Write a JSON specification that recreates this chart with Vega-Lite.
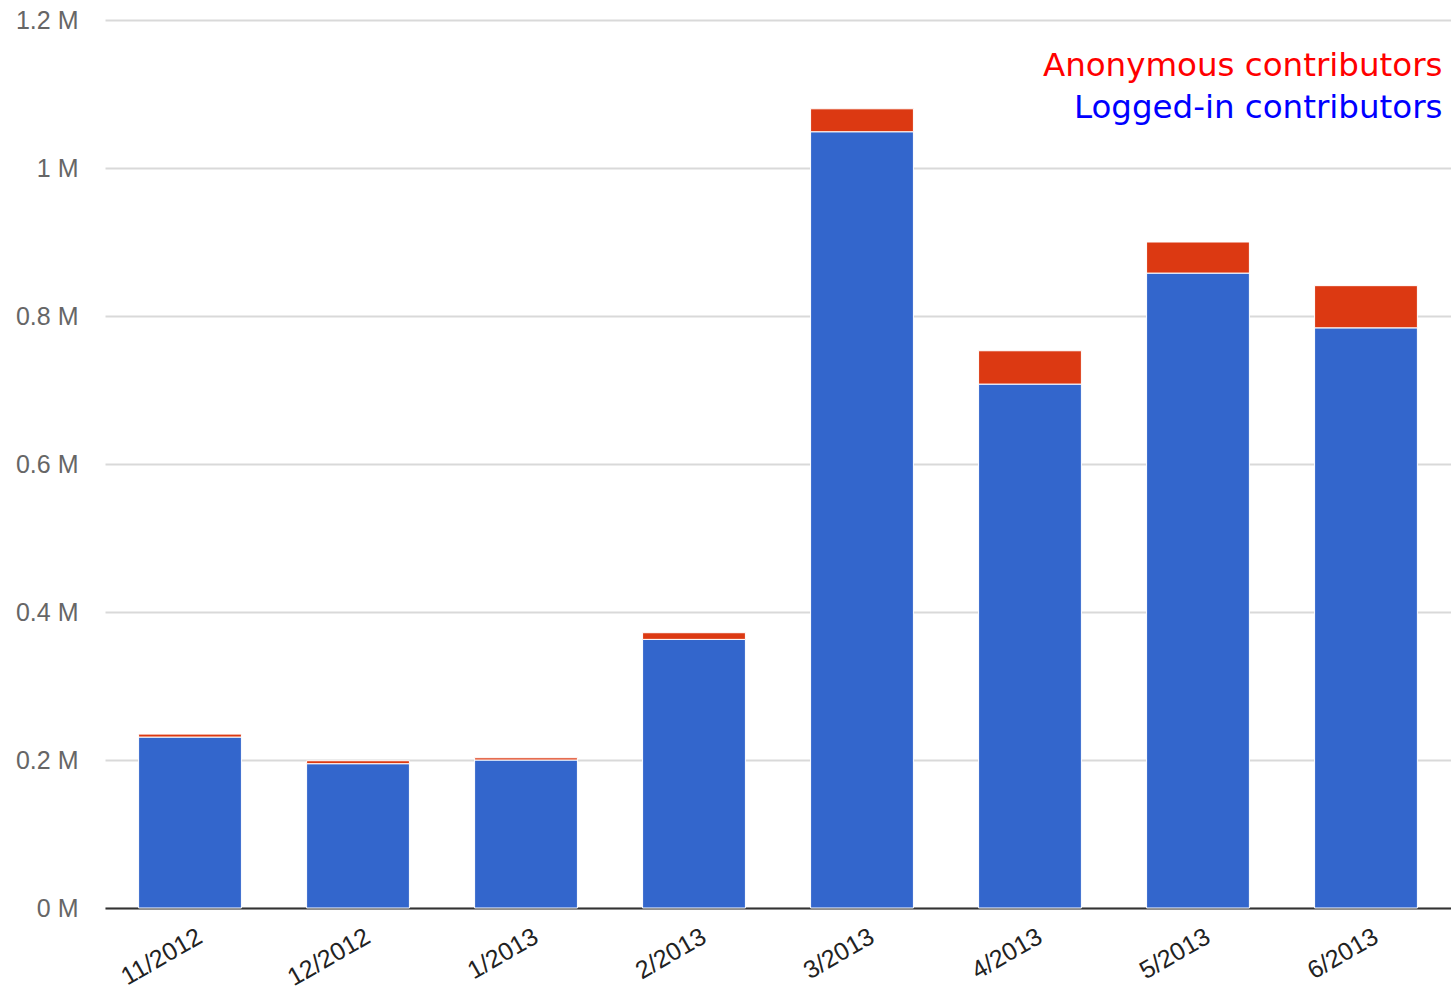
{
  "$schema": "https://vega.github.io/schema/vega-lite/v6.json",
  "width": 1346,
  "height": 888,
  "autosize": {"type": "none"},
  "padding": {"left": 105, "top": 20, "right": 0, "bottom": 85},
  "background": "white",
  "config": {
    "view": {"stroke": null},
    "font": "Liberation Sans"
  },
  "data": {
    "values": [
      {"month": "11/2012", "series": "Logged-in contributors", "count": 231000},
      {"month": "11/2012", "series": "Anonymous contributors", "count": 4000},
      {"month": "12/2012", "series": "Logged-in contributors", "count": 195000},
      {"month": "12/2012", "series": "Anonymous contributors", "count": 4000},
      {"month": "1/2013", "series": "Logged-in contributors", "count": 200000},
      {"month": "1/2013", "series": "Anonymous contributors", "count": 3000},
      {"month": "2/2013", "series": "Logged-in contributors", "count": 363000},
      {"month": "2/2013", "series": "Anonymous contributors", "count": 9000},
      {"month": "3/2013", "series": "Logged-in contributors", "count": 1049000},
      {"month": "3/2013", "series": "Anonymous contributors", "count": 31000},
      {"month": "4/2013", "series": "Logged-in contributors", "count": 708000},
      {"month": "4/2013", "series": "Anonymous contributors", "count": 45000},
      {"month": "5/2013", "series": "Logged-in contributors", "count": 858000},
      {"month": "5/2013", "series": "Anonymous contributors", "count": 42000},
      {"month": "6/2013", "series": "Logged-in contributors", "count": 784000},
      {"month": "6/2013", "series": "Anonymous contributors", "count": 57000}
    ]
  },
  "mark": {"type": "bar", "stroke": "white", "strokeWidth": 1},
  "encoding": {
    "x": {
      "field": "month",
      "type": "nominal",
      "sort": null,
      "scale": {"paddingInner": 0.388, "paddingOuter": 0.2},
      "axis": {
        "title": null,
        "labelAngle": -30,
        "labelAlign": "right",
        "labelBaseline": "middle",
        "labelFontSize": 25,
        "labelColor": "#222222",
        "labelPadding": 26,
        "labelOffset": 10,
        "ticks": false,
        "domainColor": "#333333",
        "domainWidth": 2
      }
    },
    "y": {
      "field": "count",
      "type": "quantitative",
      "stack": "zero",
      "scale": {"domain": [0, 1200000], "nice": false},
      "axis": {
        "title": null,
        "values": [0, 200000, 400000, 600000, 800000, 1000000, 1200000],
        "labelExpr": "datum.value / 1000000 + ' M'",
        "labelFontSize": 25,
        "labelColor": "#666666",
        "labelPadding": 27,
        "ticks": false,
        "domain": false,
        "gridColor": "#d9d9d9",
        "gridWidth": 2
      }
    },
    "order": {"field": "series", "sort": "descending"},
    "color": {
      "field": "series",
      "type": "nominal",
      "scale": {
        "domain": ["Anonymous contributors", "Logged-in contributors"],
        "range": ["#dc3912", "#3366cc"]
      },
      "legend": {
        "title": null,
        "orient": "none",
        "legendX": 1305,
        "legendY": 30,
        "symbolOpacity": 0,
        "symbolSize": 0,
        "symbolStrokeWidth": 0,
        "labelFont": "DejaVu Sans",
        "labelFontSize": 32.5,
        "labelAlign": "right",
        "labelOffset": 0,
        "labelLimit": 600,
        "rowPadding": 9,
        "padding": 0,
        "labelColor": {"expr": "datum.value === 'Anonymous contributors' ? '#ff0000' : '#0000ff'"}
      }
    }
  }
}
